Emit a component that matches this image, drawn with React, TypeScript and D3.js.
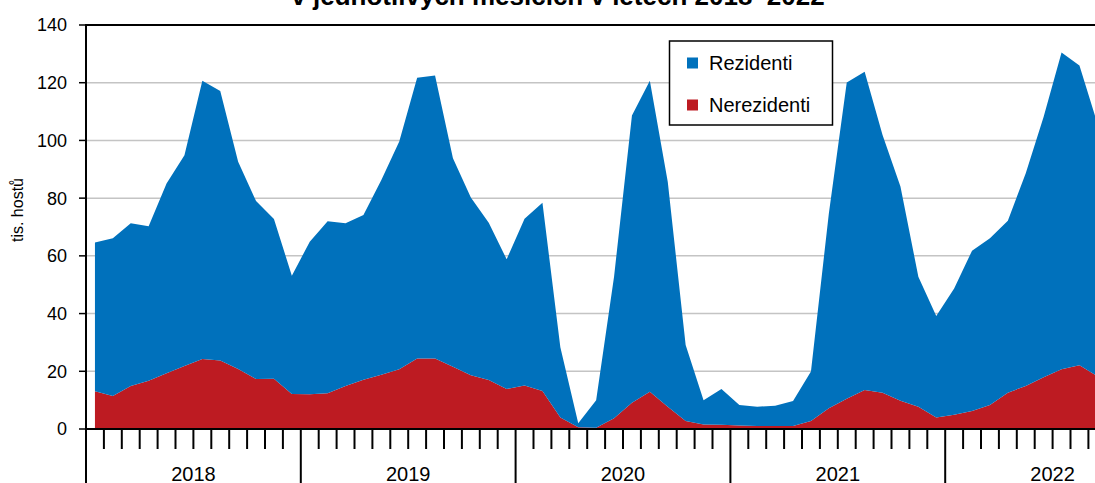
import React from "react";
import * as d3 from "d3";

const years = ["2018", "2019", "2020", "2021", "2022"];
const yTicks = [0, 20, 40, 60, 80, 100, 120, 140];

// tis. hostů, monthly from Jan 2018 (visible part up to Sep 2022)
const nerezidenti = [
  13.1, 11.4, 14.9, 16.7, 19.3, 21.8, 24.3, 23.7, 20.8, 17.3, 17.4, 12.1,
  12.0, 12.4, 14.9, 17.1, 18.8, 20.7, 24.4, 24.4, 21.6, 18.6, 17.0, 13.9,
  15.1, 13.2, 4.0, 0.6, 0.4, 3.7, 9.1, 12.9, 7.7, 2.8, 1.6, 1.5,
  1.2, 1.0, 1.0, 1.0, 2.8, 7.2, 10.5, 13.5, 12.6, 9.8, 7.7, 4.0,
  4.9, 6.2, 8.3, 12.6, 14.9, 17.9, 20.7, 22.1, 18.3,
];
const rezidenti = [
  51.5, 54.7, 56.4, 53.6, 65.8, 73.1, 96.4, 93.4, 71.8, 61.7, 55.4, 41.0,
  52.9, 59.6, 56.4, 57.1, 67.5, 78.9, 97.3, 98.1, 72.2, 61.6, 54.5, 44.9,
  57.8, 65.2, 24.3, 1.4, 9.6, 49.1, 99.5, 107.8, 78.0, 26.3, 8.4, 12.4,
  7.1, 6.7, 7.1, 8.7, 17.1, 67.5, 109.6, 110.3, 89.3, 74.2, 45.1, 35.2,
  43.8, 55.6, 57.8, 59.6, 73.7, 90.3, 109.8, 103.9, 87.6,
];

const W = 1095;
const H = 483;
const X0 = 86;
const MONTH_W = 17.9;
const TOTAL_MONTHS = years.length * 12;
const FONT = "Arial, 'Liberation Sans', sans-serif";
const BLUE = "#0071bc";
const RED = "#bd1b22";

export default function App() {
  const x = d3.scaleLinear().domain([0, TOTAL_MONTHS]).range([X0, X0 + TOTAL_MONTHS * MONTH_W]);
  const y = d3.scaleLinear().domain([0, 140]).range([429, 25]);

  const rows = nerezidenti.map((n, i) => ({ i, nerezidenti: n, rezidenti: rezidenti[i] }));
  const stack = d3.stack<any>().keys(["nerezidenti", "rezidenti"]);
  const series = stack(rows);
  const area = d3
    .area<any>()
    .x((d) => x(d.data.i + 0.5))
    .y0((d) => y(d[0]))
    .y1((d) => y(d[1]));
  const colors = [RED, BLUE];

  const monthTicks = d3.range(1, TOTAL_MONTHS + 1);

  return (
    <svg
      width={W}
      height={H}
      style={{ position: "absolute", left: 0, top: 0, background: "#fff" }}
      fontFamily={FONT}
    >
      <rect x={0} y={0} width={W} height={H} fill="#fff" />
      <text x={558} y={5} textAnchor="middle" fontWeight="bold" fontSize={26} fill="#000">
        v jednotlivých měsících v letech 2018–2022
      </text>
      {yTicks
        .filter((t) => t > 0 && t < 140)
        .map((t) => (
          <line key={"g" + t} x1={X0} x2={W} y1={y(t)} y2={y(t)} stroke="#c4c4c4" strokeWidth={1.5} />
        ))}
      {series.map((s, k) => (
        <path key={s.key} d={area(s) || ""} fill={colors[k]} stroke="none" />
      ))}
      {/* top border */}
      <line x1={X0} x2={W} y1={y(140)} y2={y(140)} stroke="#000" strokeWidth={2} />
      {/* y axis */}
      <line x1={X0} x2={X0} y1={y(140) - 1} y2={H} stroke="#000" strokeWidth={2} />
      {yTicks.map((t) => (
        <g key={"y" + t}>
          <line x1={X0 - 7} x2={X0} y1={y(t)} y2={y(t)} stroke="#000" strokeWidth={1.5} />
          <text x={67} y={y(t)} dy="0.36em" textAnchor="end" fontSize={18} fill="#000">
            {t}
          </text>
        </g>
      ))}
      <text
        transform={`translate(23,${210}) rotate(-90)`}
        textAnchor="middle"
        fontSize={16}
        fill="#000"
      >
        tis. hostů
      </text>
      {/* x axis */}
      <line x1={X0} x2={W} y1={y(0)} y2={y(0)} stroke="#000" strokeWidth={2} />
      {monthTicks.map((m) => (
        <line
          key={"m" + m}
          x1={x(m)}
          x2={x(m)}
          y1={y(0)}
          y2={m % 12 === 0 ? H : 449}
          stroke="#000"
          strokeWidth={2}
        />
      ))}
      {years.map((yr, k) => (
        <text key={yr} x={x(k * 12 + 6)} y={481} textAnchor="middle" fontSize={20} fill="#000">
          {yr}
        </text>
      ))}
      {/* legend */}
      <rect x={669.5} y={41} width={163} height={84} fill="#fff" stroke="#000" strokeWidth={1.5} />
      <rect x={687} y={57.5} width={11} height={11} fill={BLUE} />
      <text x={709} y={63} dy="0.36em" fontSize={20} fill="#000">
        Rezidenti
      </text>
      <rect x={687} y={99.5} width={11} height={11} fill={RED} />
      <text x={709} y={105} dy="0.36em" fontSize={20} fill="#000">
        Nerezidenti
      </text>
    </svg>
  );
}
